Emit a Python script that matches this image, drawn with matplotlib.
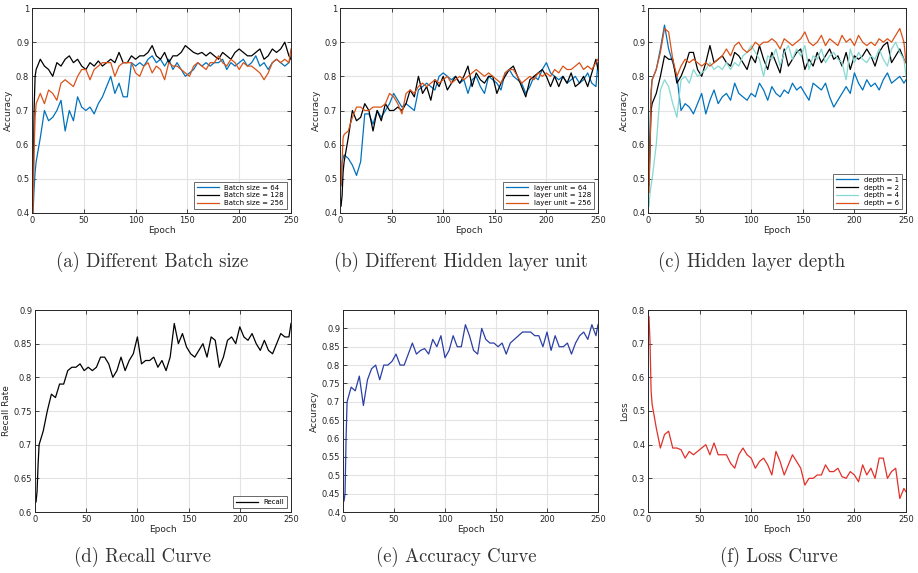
import numpy as np
import matplotlib.pyplot as plt

# epochs at which the curves were logged
epochs = np.r_[1, 2, 3, 4, np.arange(8, 249, 4), 250]

# (a) batch size
acc_bs64 = [0.40, 0.47, 0.52, 0.55,
            0.62, 0.70, 0.67, 0.68, 0.70, 0.73, 0.64, 0.70, 0.67, 0.74, 0.71, 0.70, 0.71, 0.69, 0.72, 0.74,
            0.77, 0.80, 0.75, 0.78, 0.74, 0.74, 0.84, 0.83, 0.84, 0.83, 0.85, 0.86, 0.84, 0.85, 0.83, 0.85,
            0.82, 0.84, 0.82, 0.80, 0.81, 0.82, 0.84, 0.83, 0.84, 0.83, 0.84, 0.84, 0.85, 0.82, 0.84, 0.83,
            0.84, 0.85, 0.83, 0.84, 0.86, 0.83, 0.84, 0.82, 0.84, 0.85, 0.84, 0.83, 0.84, 0.86]
acc_bs128 = [0.42, 0.70, 0.80, 0.82,
             0.85, 0.83, 0.82, 0.80, 0.84, 0.83, 0.85, 0.86, 0.84, 0.85, 0.83, 0.82, 0.84, 0.83, 0.845, 0.83,
             0.84, 0.85, 0.84, 0.87, 0.84, 0.84, 0.86, 0.85, 0.86, 0.86, 0.87, 0.89, 0.86, 0.85, 0.87, 0.84,
             0.86, 0.86, 0.87, 0.89, 0.88, 0.87, 0.865, 0.87, 0.86, 0.87, 0.86, 0.85, 0.87, 0.86, 0.85, 0.87,
             0.88, 0.87, 0.86, 0.86, 0.87, 0.88, 0.85, 0.86, 0.88, 0.87, 0.88, 0.90, 0.86, 0.85]
acc_bs256 = [0.40, 0.58, 0.68, 0.72,
             0.75, 0.72, 0.76, 0.75, 0.73, 0.78, 0.79, 0.78, 0.77, 0.80, 0.82, 0.82, 0.79, 0.82, 0.83, 0.84,
             0.84, 0.84, 0.80, 0.83, 0.84, 0.84, 0.84, 0.81, 0.80, 0.83, 0.84, 0.81, 0.83, 0.82, 0.79, 0.84,
             0.83, 0.83, 0.82, 0.81, 0.80, 0.83, 0.84, 0.83, 0.82, 0.84, 0.84, 0.86, 0.84, 0.83, 0.85, 0.84,
             0.82, 0.84, 0.83, 0.83, 0.82, 0.81, 0.79, 0.81, 0.84, 0.85, 0.84, 0.85, 0.84, 0.88]

# (b) hidden layer unit
acc_u64 = [0.48, 0.55, 0.56, 0.57,
           0.56, 0.54, 0.51, 0.55, 0.69, 0.69, 0.66, 0.70, 0.68, 0.70, 0.72, 0.75, 0.73, 0.71, 0.72, 0.71,
           0.70, 0.76, 0.77, 0.78, 0.77, 0.76, 0.80, 0.81, 0.80, 0.79, 0.80, 0.78, 0.79, 0.75, 0.79, 0.80,
           0.77, 0.75, 0.80, 0.79, 0.78, 0.76, 0.81, 0.82, 0.80, 0.79, 0.78, 0.75, 0.77, 0.80, 0.79, 0.82,
           0.84, 0.81, 0.80, 0.79, 0.80, 0.78, 0.79, 0.80, 0.78, 0.79, 0.81, 0.78, 0.77, 0.84]
acc_u128 = [0.42, 0.45, 0.52, 0.55,
            0.62, 0.70, 0.67, 0.68, 0.72, 0.70, 0.64, 0.70, 0.67, 0.72, 0.70, 0.70, 0.71, 0.70, 0.72, 0.76,
            0.74, 0.80, 0.75, 0.77, 0.73, 0.79, 0.77, 0.80, 0.76, 0.78, 0.80, 0.78, 0.80, 0.83, 0.77, 0.81,
            0.79, 0.78, 0.80, 0.80, 0.75, 0.78, 0.80, 0.82, 0.83, 0.80, 0.77, 0.74, 0.79, 0.80, 0.81, 0.82,
            0.80, 0.77, 0.80, 0.77, 0.80, 0.78, 0.81, 0.77, 0.78, 0.80, 0.77, 0.81, 0.85, 0.82]
acc_u256 = [0.48, 0.55, 0.62, 0.63,
            0.64, 0.68, 0.71, 0.71, 0.70, 0.70, 0.71, 0.71, 0.71, 0.72, 0.75, 0.74, 0.72, 0.69, 0.75, 0.76,
            0.75, 0.77, 0.78, 0.77, 0.78, 0.79, 0.78, 0.79, 0.80, 0.78, 0.79, 0.80, 0.79, 0.80, 0.81, 0.82,
            0.81, 0.80, 0.81, 0.80, 0.79, 0.78, 0.81, 0.82, 0.82, 0.80, 0.78, 0.79, 0.80, 0.79, 0.81, 0.80,
            0.81, 0.80, 0.82, 0.81, 0.83, 0.82, 0.82, 0.83, 0.84, 0.82, 0.83, 0.82, 0.84, 0.85]

# (c) hidden layer depth
acc_d1 = [0.50, 0.65, 0.76, 0.79,
          0.82, 0.88, 0.95, 0.88, 0.84, 0.80, 0.70, 0.72, 0.71, 0.69, 0.72, 0.75, 0.69, 0.73, 0.76, 0.72,
          0.74, 0.75, 0.73, 0.78, 0.75, 0.74, 0.73, 0.75, 0.74, 0.78, 0.76, 0.73, 0.77, 0.75, 0.74, 0.76,
          0.75, 0.78, 0.76, 0.77, 0.75, 0.73, 0.78, 0.77, 0.76, 0.78, 0.74, 0.71, 0.73, 0.75, 0.77, 0.75,
          0.81, 0.78, 0.76, 0.79, 0.77, 0.78, 0.76, 0.79, 0.81, 0.78, 0.79, 0.80, 0.78, 0.79]
acc_d2 = [0.48, 0.60, 0.70, 0.72,
          0.75, 0.80, 0.86, 0.85, 0.85, 0.78, 0.80, 0.83, 0.87, 0.87, 0.82, 0.80, 0.84, 0.89, 0.84, 0.85,
          0.86, 0.84, 0.83, 0.87, 0.86, 0.84, 0.82, 0.86, 0.84, 0.89, 0.85, 0.82, 0.87, 0.84, 0.81, 0.88,
          0.83, 0.85, 0.87, 0.88, 0.82, 0.85, 0.83, 0.87, 0.84, 0.86, 0.88, 0.85, 0.86, 0.83, 0.87, 0.82,
          0.86, 0.85, 0.86, 0.88, 0.86, 0.83, 0.87, 0.89, 0.90, 0.84, 0.86, 0.88, 0.85, 0.84]
acc_d4 = [0.42, 0.46, 0.48, 0.50,
          0.60, 0.76, 0.79, 0.77, 0.72, 0.68, 0.79, 0.80, 0.78, 0.82, 0.80, 0.81, 0.82, 0.84, 0.82, 0.83,
          0.82, 0.84, 0.82, 0.84, 0.83, 0.86, 0.87, 0.89, 0.87, 0.85, 0.80, 0.86, 0.85, 0.88, 0.83, 0.87,
          0.89, 0.85, 0.88, 0.86, 0.89, 0.82, 0.86, 0.85, 0.88, 0.84, 0.86, 0.87, 0.85, 0.84, 0.79, 0.88,
          0.84, 0.87, 0.85, 0.84, 0.86, 0.85, 0.88, 0.85, 0.83, 0.88, 0.90, 0.87, 0.85, 0.80]
acc_d6 = [0.46, 0.60, 0.74, 0.79,
          0.82, 0.87, 0.94, 0.93, 0.85, 0.80, 0.83, 0.85, 0.84, 0.85, 0.84, 0.83, 0.84, 0.83, 0.84, 0.85,
          0.86, 0.88, 0.86, 0.89, 0.90, 0.88, 0.87, 0.88, 0.90, 0.89, 0.90, 0.90, 0.91, 0.90, 0.88, 0.91,
          0.90, 0.89, 0.90, 0.91, 0.93, 0.90, 0.89, 0.90, 0.92, 0.89, 0.91, 0.90, 0.89, 0.92, 0.90, 0.91,
          0.89, 0.92, 0.90, 0.89, 0.90, 0.89, 0.91, 0.90, 0.91, 0.90, 0.92, 0.94, 0.90, 0.84]

# (d) recall
recall = [0.615, 0.63, 0.67, 0.70,
          0.72, 0.75, 0.775, 0.77, 0.79, 0.79, 0.81, 0.815, 0.815, 0.82, 0.81, 0.815, 0.81, 0.815, 0.83, 0.83,
          0.82, 0.80, 0.81, 0.83, 0.81, 0.825, 0.835, 0.86, 0.82, 0.825, 0.825, 0.83, 0.815, 0.825, 0.81, 0.83,
          0.88, 0.85, 0.865, 0.845, 0.835, 0.83, 0.84, 0.85, 0.83, 0.86, 0.855, 0.815, 0.83, 0.855, 0.86, 0.85,
          0.875, 0.86, 0.855, 0.865, 0.85, 0.84, 0.855, 0.84, 0.835, 0.85, 0.865, 0.86, 0.86, 0.88]

# (e) accuracy
accuracy = [0.43, 0.45, 0.60, 0.70,
            0.74, 0.73, 0.77, 0.69, 0.76, 0.79, 0.80, 0.76, 0.80, 0.80, 0.81, 0.83, 0.80, 0.80, 0.83, 0.86,
            0.83, 0.84, 0.845, 0.83, 0.87, 0.85, 0.88, 0.82, 0.84, 0.88, 0.85, 0.85, 0.91, 0.88, 0.84, 0.83,
            0.90, 0.87, 0.86, 0.86, 0.85, 0.86, 0.83, 0.86, 0.87, 0.88, 0.89, 0.89, 0.89, 0.88, 0.88, 0.85,
            0.89, 0.84, 0.88, 0.85, 0.85, 0.86, 0.83, 0.86, 0.88, 0.89, 0.87, 0.91, 0.88, 0.91]

# (f) loss
loss = [0.78, 0.70, 0.56, 0.52,
        0.45, 0.39, 0.43, 0.44, 0.39, 0.39, 0.385, 0.36, 0.38, 0.37, 0.38, 0.39, 0.40, 0.37, 0.405, 0.37,
        0.37, 0.37, 0.345, 0.33, 0.37, 0.39, 0.37, 0.36, 0.33, 0.35, 0.36, 0.34, 0.31, 0.38, 0.35, 0.31,
        0.34, 0.37, 0.35, 0.33, 0.28, 0.30, 0.30, 0.31, 0.31, 0.34, 0.32, 0.32, 0.33, 0.305, 0.30, 0.32,
        0.31, 0.29, 0.34, 0.31, 0.33, 0.30, 0.36, 0.36, 0.30, 0.32, 0.33, 0.24, 0.27, 0.26]

BLUE = "#0072BD"
ORANGE = "#D95319"
CYAN = "#86d8d2"
W, H = 918, 573


def make_axes(fig, left, right, top, bottom):
    ax = fig.add_axes([left / W, 1 - bottom / H, (right - left) / W, (bottom - top) / H])
    ax.grid(True, color="#e3e3e3", linewidth=0.8)
    ax.set_axisbelow(True)
    ax.tick_params(direction="in", top=True, right=True, length=3, width=0.6,
                   labelsize=6, colors="#262626", pad=2)
    for s in ax.spines.values():
        s.set_linewidth(0.7)
        s.set_color("#262626")
    ax.set_xlim(0, 250)
    ax.set_xticks(range(0, 251, 50))
    ax.set_xlabel("Epoch", fontsize=6.5, color="#262626", labelpad=1)
    return ax


def legend(ax, **kw):
    leg = ax.legend(loc="lower right", fontsize=5, frameon=True, fancybox=False,
                    handlelength=3.2, borderpad=0.4, labelspacing=0.25,
                    borderaxespad=0.6, **kw)
    leg.get_frame().set_edgecolor("#262626")
    leg.get_frame().set_linewidth(0.6)


fig = plt.figure(figsize=(9.18, 5.73), dpi=100)
lw = 0.9

ax = make_axes(fig, 32, 291, 8, 213)
ax.plot(epochs, acc_bs64, color=BLUE, lw=lw, label="Batch size = 64")
ax.plot(epochs, acc_bs128, color="black", lw=lw, label="Batch size = 128")
ax.plot(epochs, acc_bs256, color=ORANGE, lw=lw, label="Batch size = 256")
ax.set_ylim(0.4, 1)
ax.set_yticks(np.arange(0.4, 1.01, 0.1), ["0.4", "0.5", "0.6", "0.7", "0.8", "0.9", "1"])
ax.set_ylabel("Accuracy", fontsize=6.5, color="#262626", labelpad=2)
legend(ax)

ax = make_axes(fig, 340, 598, 8, 213)
ax.plot(epochs, acc_u64, color=BLUE, lw=lw, label="layer unit = 64")
ax.plot(epochs, acc_u128, color="black", lw=lw, label="layer unit = 128")
ax.plot(epochs, acc_u256, color=ORANGE, lw=lw, label="layer unit = 256")
ax.set_ylim(0.4, 1)
ax.set_yticks(np.arange(0.4, 1.01, 0.1), ["0.4", "0.5", "0.6", "0.7", "0.8", "0.9", "1"])
ax.set_ylabel("Accuracy", fontsize=6.5, color="#262626", labelpad=2)
legend(ax)

ax = make_axes(fig, 648, 906, 8, 213)
ax.plot(epochs, acc_d1, color=BLUE, lw=lw, label="depth = 1")
ax.plot(epochs, acc_d2, color="black", lw=lw, label="depth = 2")
ax.plot(epochs, acc_d4, color=CYAN, lw=lw, label="depth = 4")
ax.plot(epochs, acc_d6, color=ORANGE, lw=lw, label="depth = 6")
ax.set_ylim(0.4, 1)
ax.set_yticks(np.arange(0.4, 1.01, 0.1), ["0.4", "0.5", "0.6", "0.7", "0.8", "0.9", "1"])
ax.set_ylabel("Accuracy", fontsize=6.5, color="#262626", labelpad=2)
legend(ax)

ax = make_axes(fig, 35, 291, 310, 512)
ax.plot(epochs, recall, color="black", lw=lw, label="Recall")
ax.set_ylim(0.6, 0.9)
ax.set_yticks(np.arange(0.6, 0.901, 0.05), ["0.6", "0.65", "0.7", "0.75", "0.8", "0.85", "0.9"])
ax.set_ylabel("Recall Rate", fontsize=6.5, color="#262626", labelpad=2)
legend(ax)

ax = make_axes(fig, 343, 598, 310, 512)
ax.plot(epochs, accuracy, color="#2b3fa6", lw=lw)
ax.set_ylim(0.4, 0.95)
ax.set_yticks(np.arange(0.4, 0.901, 0.05),
              ["0.4", "0.45", "0.5", "0.55", "0.6", "0.65", "0.7", "0.75", "0.8", "0.85", "0.9"])
ax.set_ylabel("Accuracy", fontsize=6.5, color="#262626", labelpad=2)

ax = make_axes(fig, 648, 906, 310, 512)
ax.plot(epochs, loss, color="#e2302a", lw=lw)
ax.set_ylim(0.2, 0.8)
ax.set_yticks(np.arange(0.2, 0.801, 0.1), ["0.2", "0.3", "0.4", "0.5", "0.6", "0.7", "0.8"])
ax.set_ylabel("Loss", fontsize=6.5, color="#262626", labelpad=2)

captions = [
    (152, 262, "(a) Different Batch size"),
    (461, 262, "(b) Different Hidden layer unit"),
    (752, 262, "(c) Hidden layer depth"),
    (142, 557, "(d) Recall Curve"),
    (456, 557, "(e) Accuracy Curve"),
    (779, 557, "(f) Loss Curve"),
]
for x, y, txt in captions:
    fig.text(x / W, 1 - y / H, txt, ha="center", va="center",
             fontsize=13.5, family="cmr10", color="#333333")

fig.savefig("out.png", dpi=100)
